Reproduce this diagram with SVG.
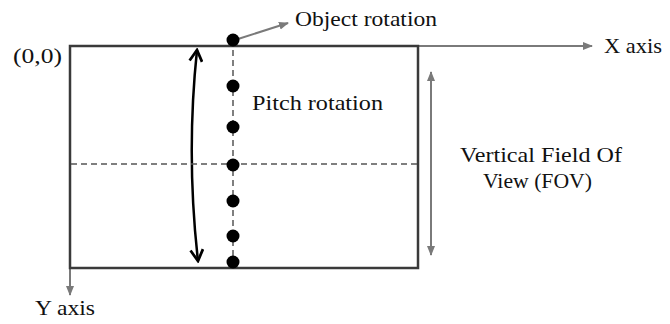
<svg xmlns="http://www.w3.org/2000/svg" width="670" height="324" viewBox="0 0 670 324">
<defs>
<style>
text{font-family:"Liberation Serif","Times New Roman",serif;font-size:22px;fill:#111;lengthAdjust:spacingAndGlyphs}
.gray{stroke:#7a7a7a;stroke-width:2;fill:none}
.frame{stroke:#3a3a3a;stroke-width:2.5;fill:none}
.dash{stroke:#555;stroke-width:1.5;stroke-dasharray:6 4;fill:none}
.dot{fill:#000}
</style>
<marker id="ga" viewBox="0 0 10 10" refX="9" refY="5" markerWidth="5" markerHeight="5" orient="auto-start-reverse">
<path d="M0,1 L10,5 L0,9 Z" fill="#7a7a7a"/>
</marker>
<marker id="ba" viewBox="0 0 12 12" refX="10" refY="6" markerWidth="6" markerHeight="6" orient="auto-start-reverse">
<path d="M1,1 L10,6 L1,11" fill="none" stroke="#000" stroke-width="2.2"/>
</marker>
</defs>
<g id="connectors">
<line class="gray" x1="418" y1="46" x2="592" y2="46" marker-end="url(#ga)"/>
<line class="gray" x1="70" y1="268" x2="70" y2="295" marker-end="url(#ga)"/>
<line class="gray" x1="431" y1="72" x2="431" y2="255" marker-start="url(#ga)" marker-end="url(#ga)"/>
<line class="gray" x1="238" y1="39" x2="288" y2="23" marker-end="url(#ga)"/>
<path d="M197,50 Q186,155 198,261" fill="none" stroke="#000" stroke-width="2.5" marker-start="url(#ba)" marker-end="url(#ba)"/>
</g>
<g id="frame">
<rect class="frame" x="70" y="46" width="348" height="222"/>
<line class="dash" x1="71" y1="164" x2="417" y2="164"/>
<line class="dash" x1="233" y1="40" x2="233" y2="262"/>
</g>
<g id="dots">
<circle class="dot" cx="233" cy="40" r="6.5"/>
<circle class="dot" cx="233" cy="86" r="6.5"/>
<circle class="dot" cx="233" cy="127" r="6.5"/>
<circle class="dot" cx="233" cy="165" r="6.5"/>
<circle class="dot" cx="233" cy="201" r="6.5"/>
<circle class="dot" cx="233" cy="236" r="6.5"/>
<circle class="dot" cx="233" cy="262" r="6.5"/>
</g>
<g id="labels">
<text x="295" y="26" textLength="142" lengthAdjust="spacingAndGlyphs">Object rotation</text>
<text x="604" y="53" textLength="58" lengthAdjust="spacingAndGlyphs">X axis</text>
<text x="13" y="63" textLength="49" lengthAdjust="spacingAndGlyphs">(0,0)</text>
<text x="252" y="110" textLength="131" lengthAdjust="spacingAndGlyphs">Pitch rotation</text>
<text x="460" y="162" textLength="162" lengthAdjust="spacingAndGlyphs">Vertical Field Of</text>
<text x="483" y="188" textLength="109" lengthAdjust="spacingAndGlyphs">View (FOV)</text>
<text x="35" y="315" textLength="60" lengthAdjust="spacingAndGlyphs">Y axis</text>
</g>
</svg>
